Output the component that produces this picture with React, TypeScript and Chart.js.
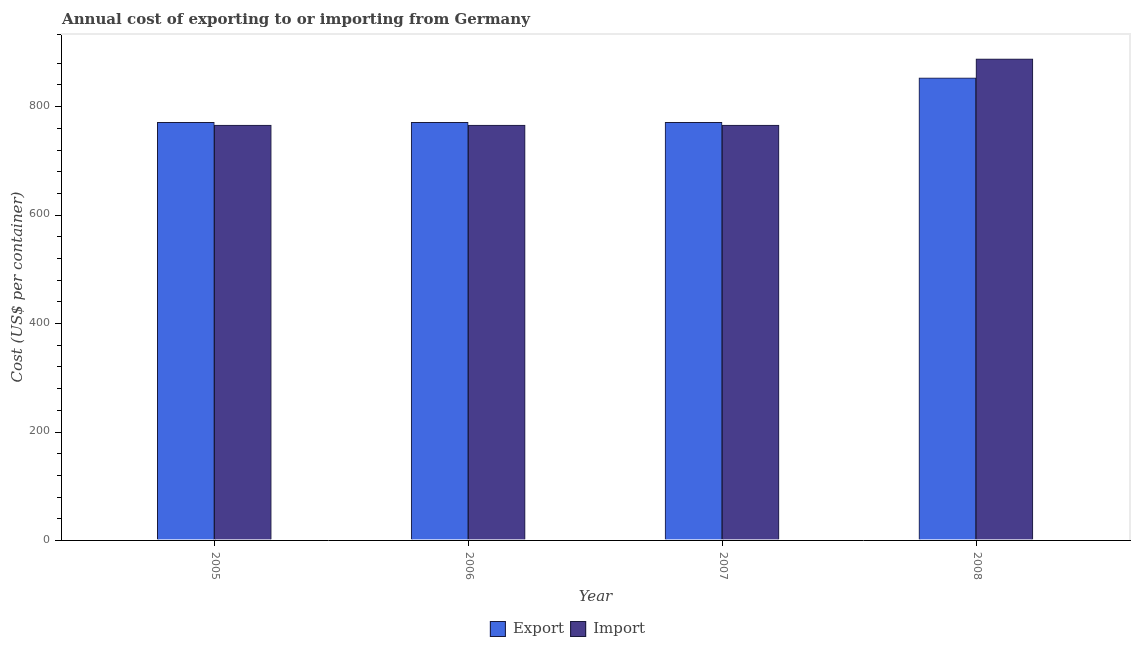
import React, { useEffect, useRef } from "react";
import { Chart, registerables } from "chart.js";

Chart.register(...registerables);

const years = [2005, 2006, 2007, 2008];
const exportCost = [770, 770, 770, 852];
const importCost = [765, 765, 765, 887];
const yTickLabels = [0, 200, 400, 600, 800];

const TITLE = "Annual cost of exporting to or importing from Germany";
const Y_TITLE = "Cost (US$ per container)";
const X_TITLE = "Year";

const decorPlugin = {
  id: "decor",
  afterDraw(chart: any) {
    const ctx = chart.ctx as CanvasRenderingContext2D;
    const { left, right, top, bottom } = chart.chartArea;
    const xs = chart.scales.x;
    const ys = chart.scales.y;
    ctx.save();
    // light top/right frame
    ctx.strokeStyle = "#ebebeb";
    ctx.lineWidth = 2;
    ctx.beginPath();
    ctx.moveTo(left, top);
    ctx.lineTo(right, top);
    ctx.lineTo(right, bottom);
    ctx.stroke();

    // y ticks (major + minor)
    ctx.strokeStyle = "#000";
    ctx.lineWidth = 1;
    for (const t of ys.ticks) {
      const py = Math.round(ys.getPixelForValue(t.value)) + 0.5;
      const major = yTickLabels.includes(t.value);
      ctx.beginPath();
      ctx.moveTo(left - (major ? 6 : 4), py);
      ctx.lineTo(left, py);
      ctx.stroke();
    }
    // x ticks + rotated labels
    ctx.fillStyle = "#666";
    ctx.font = "11px 'DejaVu Sans'";
    for (const yr of years) {
      const px = Math.round(xs.getPixelForValue(yr)) + 0.5;
      ctx.beginPath();
      ctx.moveTo(px, bottom);
      ctx.lineTo(px, bottom + 6);
      ctx.stroke();
      ctx.save();
      ctx.translate(px, bottom + 12);
      ctx.rotate(Math.PI / 2);
      ctx.textAlign = "left";
      ctx.textBaseline = "middle";
      ctx.fillText(String(yr), 0, 0);
      ctx.restore();
    }

    // title
    ctx.fillStyle = "#444";
    ctx.font = "bold 15px 'DejaVu Serif'";
    ctx.textAlign = "left";
    ctx.textBaseline = "alphabetic";
    ctx.fillText(TITLE, 62, 24);

    // y title
    ctx.save();
    ctx.font = "italic 15px 'DejaVu Serif'";
    ctx.fillStyle = "#444";
    ctx.translate(18, (top + bottom) / 2);
    ctx.rotate(-Math.PI / 2);
    ctx.textAlign = "center";
    ctx.textBaseline = "middle";
    ctx.fillText(Y_TITLE, 0, 0);
    ctx.restore();

    // x title
    ctx.font = "italic 15px 'DejaVu Serif'";
    ctx.fillStyle = "#444";
    ctx.textAlign = "center";
    ctx.textBaseline = "middle";
    ctx.fillText(X_TITLE, (left + right) / 2, 597);

    // legend
    const items = chart.data.datasets.map((d: any) => ({
      label: d.label,
      color: d.backgroundColor,
    }));
    ctx.font = "15px 'DejaVu Serif'";
    const box = 16;
    const gapBT = 7;
    const gapItem = 6;
    let total = 0;
    items.forEach((it: any, i: number) => {
      total += box + gapBT + ctx.measureText(it.label).width;
      if (i < items.length - 1) total += gapItem;
    });
    let x = chart.width / 2 - total / 2;
    const ly = 629;
    items.forEach((it: any) => {
      ctx.fillStyle = it.color;
      ctx.fillRect(x, ly - box / 2, box, box);
      ctx.strokeStyle = "#1a1a3a";
      ctx.lineWidth = 1;
      ctx.strokeRect(x + 0.5, ly - box / 2 + 0.5, box - 1, box - 1);
      x += box + gapBT;
      ctx.fillStyle = "#444";
      ctx.textAlign = "left";
      ctx.textBaseline = "middle";
      ctx.fillText(it.label, x, ly);
      x += ctx.measureText(it.label).width + gapItem;
    });
    ctx.restore();
  },
};

export default function App() {
  const ref = useRef<HTMLCanvasElement | null>(null);
  useEffect(() => {
    if (!ref.current) return;
    const chart = new Chart(ref.current, {
      type: "bar",
      data: {
        datasets: [
          {
            label: "Export",
            data: years.map((yr, i) => ({ x: yr, y: exportCost[i] })),
            backgroundColor: "#4169E1",
            borderColor: "#1a1a3a",
            borderWidth: 1,
            barThickness: 57,
          },
          {
            label: "Import",
            data: years.map((yr, i) => ({ x: yr, y: importCost[i] })),
            backgroundColor: "#483D8B",
            borderColor: "#1a1a3a",
            borderWidth: 1,
            barThickness: 57,
          },
        ],
      },
      options: {
        responsive: false,
        animation: false,
        layout: { padding: { top: 34, right: 5, left: 0, bottom: 0 } },
        plugins: {
          legend: { display: false },
          title: { display: false },
          tooltip: { enabled: false },
        },
        scales: {
          x: {
            type: "linear",
            min: 2004.63,
            max: 2008.373,
            ticks: { display: false },
            grid: { display: false },
            border: { color: "#000", width: 1 },
            afterFit: (s: any) => {
              s.height = 110;
            },
          },
          y: {
            min: 0,
            max: 933,
            ticks: {
              stepSize: 40,
              autoSkip: false,
              color: "#666",
              font: { family: "'DejaVu Sans'", size: 11 },
              padding: 5,
              callback: (v: any) => (yTickLabels.includes(v) ? String(v) : ""),
            },
            grid: {
              display: true,
              drawOnChartArea: false,
              tickLength: 6,
              tickColor: "transparent",
            },
            border: { color: "#000", width: 1 },
            afterFit: (s: any) => {
              s.width = 61;
            },
          },
        },
      },
      plugins: [decorPlugin],
    });
    return () => chart.destroy();
  }, []);
  return (
    <div style={{ position: "fixed", left: 0, top: 0, width: 1135, height: 650, background: "#fff" }}>
      <canvas ref={ref} width={1135} height={650} />
    </div>
  );
}
